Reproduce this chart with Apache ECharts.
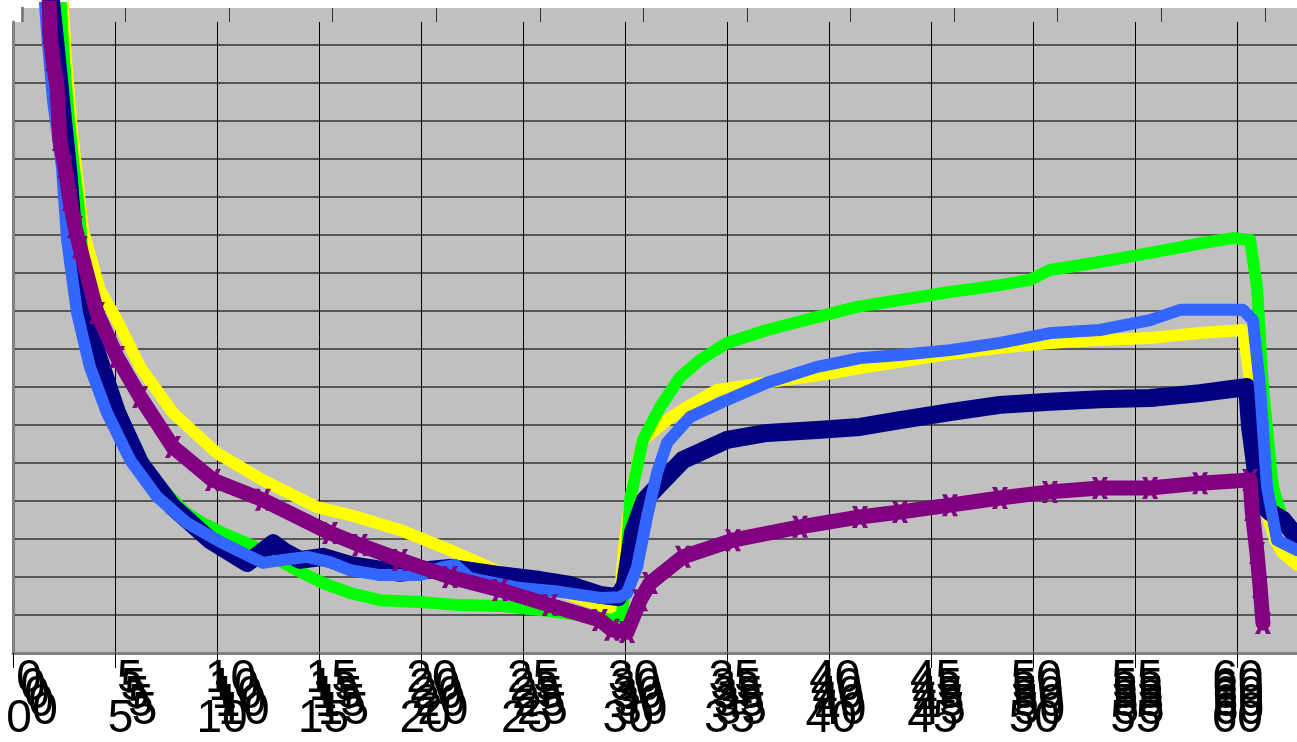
<!DOCTYPE html>
<html>
<head>
<meta charset="utf-8">
<title>chart</title>
<script src="https://cdn.jsdelivr.net/npm/echarts@6/dist/echarts.min.js"></script>
<style>
  html, body { margin: 0; padding: 0; background: #fff; }
  #chart { width: 1297px; height: 742px; }
</style>
</head>
<body>
<div id="chart"></div>
<script>
// x 轴刻度 (0..60, 每 5 一格), y 轴无刻度标签
var xTicks = [0, 5, 10, 15, 20, 25, 30, 35, 40, 45, 50, 55, 60];

// 各曲线数据 [x, y]
var greenData = [
  [2.30, 174.5], [2.50, 156.1], [2.70, 142.9], [2.94, 129.7], [3.19, 119.2], [3.43, 103.4],
  [3.68, 92.9], [4.02, 82.4], [4.46, 74.5], [4.90, 68.4], [5.49, 60.0], [6.23, 51.6],
  [6.96, 45.5], [7.70, 41.1], [8.43, 37.1], [9.31, 34.2], [10.39, 31.3], [11.47, 28.9],
  [12.60, 25.8], [13.92, 21.8], [15.20, 18.4], [16.52, 15.8], [17.99, 13.9], [19.95, 13.4],
  [21.91, 12.6], [23.87, 12.4], [25.83, 11.3], [27.79, 10.0], [29.36, 8.7], [29.85, 10.0],
  [30.0, 18.4], [30.25, 40.3], [30.88, 56.1], [31.72, 64.7], [32.70, 72.6], [33.68, 77.1],
  [35.0, 81.6], [36.96, 85.0], [39.41, 88.4], [41.37, 91.1], [43.48, 92.9], [45.93, 95.0],
  [48.38, 96.8], [49.85, 98.2], [50.83, 100.8], [53.28, 102.9], [55.74, 105.3], [57.06, 106.6],
  [58.33, 107.9], [59.80, 109.2], [60.64, 108.7], [60.98, 96.3], [61.27, 70.0], [61.76, 43.7],
  [62.25, 35.0], [62.94, 29.7]
];
var yellowData = [
  [2.40, 174.5], [2.60, 156.1], [2.89, 137.6], [3.19, 123.2], [3.43, 111.3], [4.26, 95.5],
  [5.10, 87.6], [6.23, 75.3], [7.84, 63.2], [10.0, 52.6], [12.25, 45.5], [14.90, 38.4],
  [16.52, 36.3], [18.97, 32.4], [21.42, 27.1], [23.87, 21.3], [26.32, 17.1], [28.77, 12.6],
  [29.66, 10.8], [30.0, 29.7], [30.39, 44.7], [30.88, 56.1], [32.06, 61.3], [33.04, 64.7],
  [34.51, 69.2], [37.75, 71.8], [40.20, 73.7], [41.52, 75.0], [43.48, 76.6], [45.93, 78.7],
  [48.38, 80.3], [50.83, 81.6], [53.28, 82.4], [55.74, 82.9], [58.19, 84.2], [60.29, 85.0],
  [60.64, 71.8], [61.03, 53.4], [61.42, 37.6], [61.86, 29.7], [62.25, 26.3], [62.94, 23.2]
];
var navyData = [
  [1.81, 174.5], [2.06, 161.3], [2.40, 142.9], [2.70, 127.1], [2.94, 111.3], [3.43, 91.1],
  [4.12, 78.9], [5.10, 63.2], [6.23, 50.0], [7.84, 38.4], [9.66, 29.7], [11.47, 23.7],
  [12.21, 26.6], [12.75, 28.9], [13.33, 26.6], [14.07, 24.5], [15.20, 25.3], [16.52, 23.2],
  [18.97, 21.1], [21.42, 22.4], [23.87, 20.5], [25.83, 19.2], [27.30, 17.9], [28.77, 15.3],
  [29.66, 14.7], [30.0, 17.9], [30.39, 31.6], [30.98, 40.3], [31.57, 43.7], [32.84, 50.8],
  [35.0, 56.1], [36.96, 57.9], [39.41, 58.7], [41.52, 59.5], [43.48, 61.3], [45.93, 63.4],
  [48.38, 65.3], [50.83, 66.1], [53.28, 66.8], [55.74, 67.1], [58.19, 68.4], [60.49, 70.0],
  [60.64, 59.5], [61.13, 39.5], [61.62, 37.1], [62.25, 35.0], [62.94, 30.5]
];
var blueData = [
  [1.52, 174.5], [1.67, 163.2], [1.96, 145.5], [2.40, 127.9], [2.65, 108.7], [3.14, 89.5],
  [3.77, 75.3], [4.61, 63.2], [5.74, 50.8], [7.06, 41.1], [8.53, 34.2], [10.29, 28.9],
  [12.25, 23.7], [13.24, 24.5], [14.41, 25.3], [15.54, 23.9], [16.52, 21.8], [17.99, 20.5],
  [19.95, 20.5], [20.93, 22.4], [21.67, 23.2], [22.40, 19.7], [24.85, 17.1], [26.81, 16.1],
  [28.77, 14.5], [29.75, 14.7], [30.10, 15.8], [30.59, 22.6], [31.08, 35.8], [31.57, 47.4],
  [32.06, 55.3], [33.19, 62.1], [35.0, 66.6], [36.96, 71.1], [39.41, 75.3], [41.52, 77.6],
  [43.48, 78.4], [45.93, 79.7], [48.38, 81.6], [50.83, 84.2], [53.28, 85.0], [55.74, 87.6],
  [57.21, 90.3], [60.29, 90.3], [60.78, 87.6], [61.13, 70.0], [61.47, 43.7], [61.96, 29.7],
  [62.94, 27.1]
];
var purpleData = [
  [1.76, 174.5], [1.81, 163.2], [1.96, 156.1], [2.16, 148.9], [2.30, 135.0], [2.55, 127.9],
  [2.79, 119.2], [3.04, 112.1], [3.28, 106.8], [4.12, 89.5], [5.10, 77.9], [6.23, 67.4],
  [7.84, 54.2], [9.80, 45.5], [12.25, 40.3], [15.54, 31.6], [17.01, 28.4], [18.97, 24.5],
  [21.42, 20.0], [23.87, 16.6], [26.32, 12.6], [28.77, 8.7], [29.36, 6.1], [30.10, 5.5],
  [30.74, 13.9], [31.23, 18.4], [32.84, 25.3], [35.29, 29.7], [38.58, 33.2], [41.52, 35.8],
  [43.48, 37.1], [45.93, 38.9], [48.38, 40.8], [50.83, 42.4], [53.28, 43.4], [55.74, 43.4],
  [58.19, 44.7], [60.64, 45.5], [60.74, 37.6], [60.98, 26.3], [61.13, 17.4], [61.27, 7.9]
];

var X_MAX = 62.94;
var FONT = "'Liberation Sans', Arial, sans-serif";

// 重叠的 x 轴标签行: 左边距, 每单位像素, 标签距离
var labelRows = [
  { left: 19, k: 20.5, margin: 52 },
  { left: 29, k: 20.42, margin: 3 },
  { left: 33, k: 20.46, margin: 11 },
  { left: 37, k: 20.5, margin: 19 },
  { left: 41, k: 20.54, margin: 27 },
  { left: 45, k: 20.58, margin: 35 }
];

var grids = [
  // 后面的绘图区 (只露出顶部一条)
  { left: 22, top: 8, right: 0, height: 645, show: true, backgroundColor: "#c0c0c0", borderWidth: 0, z: 0 },
  // 主绘图区
  { left: 13, top: 22, right: 0, height: 631, show: true, backgroundColor: "#c0c0c0", borderWidth: 0, z: 1 },
  // 曲线所在的区域
  { left: 13, top: 8, right: 0, height: 645, z: 3 }
];
var xAxes = [
  {
    gridIndex: 0, type: "value", min: 0, max: 61.55, interval: 5, z: 0,
    axisLine: { show: false }, axisTick: { show: false }, axisLabel: { show: false },
    splitLine: { show: true, showMaxLine: false, lineStyle: { color: "#333", width: 1 } }
  },
  {
    gridIndex: 1, type: "value", min: 0, max: X_MAX, interval: 5, z: 2,
    axisLine: { show: true, lineStyle: { color: "#808080", width: 3 } },
    axisTick: { show: true, length: 15, lineStyle: { color: "#000", width: 1 } },
    axisLabel: { show: false },
    splitLine: { show: true, showMaxLine: false, lineStyle: { color: "#000", width: 1 } }
  },
  { gridIndex: 2, type: "value", min: 0, max: X_MAX, show: false }
];
var yAxes = [
  {
    gridIndex: 0, type: "value", min: 0, max: 100, z: 0,
    axisLine: { show: true, lineStyle: { color: "#808080", width: 3 } },
    axisTick: { show: false }, axisLabel: { show: false }, splitLine: { show: false }
  },
  {
    gridIndex: 1, type: "value", min: 0, max: 166.05, interval: 10, z: 2,
    axisLine: { show: true, lineStyle: { color: "#808080", width: 3 } },
    axisTick: { show: false }, axisLabel: { show: false },
    splitLine: { show: true, showMaxLine: false, lineStyle: { color: "#333", width: 1.5 } }
  },
  { gridIndex: 2, type: "value", min: 0, max: 169.74, show: false }
];

// 每一行标签单独一个 grid
labelRows.forEach(function (row) {
  var gi = grids.length;
  grids.push({ left: row.left, top: 8, width: row.k * X_MAX, height: 645, z: 2 });
  xAxes.push({
    gridIndex: gi, type: "value", min: 0, max: X_MAX, interval: 5, z: 2,
    axisLine: { show: false }, axisTick: { show: false }, splitLine: { show: false },
    axisLabel: {
      show: true, margin: row.margin, showMaxLabel: false,
      color: "#000", fontSize: 46, lineHeight: 46, fontFamily: FONT,
      formatter: function (v) { return xTicks.indexOf(v) >= 0 ? String(v) : ""; }
    }
  });
  yAxes.push({ gridIndex: gi, type: "value", show: false });
});

var crossPath = "path://M0 0 L3 0 L5 3.5 L7 0 L10 0 L6.5 5 L10 10 L7 10 L5 6.5 L3 10 L0 10 L3.5 5 Z";

function lineSeries(name, data, color, width, z, extra) {
  var s = {
    name: name,
    type: "line",
    xAxisIndex: 2,
    yAxisIndex: 2,
    data: data,
    showSymbol: false,
    z: z,
    lineStyle: { color: color, width: width, join: "round", cap: "round" },
    itemStyle: { color: color },
    animation: false
  };
  for (var key in extra) s[key] = extra[key];
  return s;
}

var option = {
  animation: false,
  grid: grids,
  xAxis: xAxes,
  yAxis: yAxes,
  series: [
    lineSeries("yellow", yellowData, "#ffff00", 12, 5),
    lineSeries("green", greenData, "#00ff00", 12, 6),
    lineSeries("navy", navyData, "#000080", 18, 7),
    lineSeries("blue", blueData, "#3366ff", 12, 8),
    lineSeries("purple", purpleData, "#800080", 15, 9, {
      showSymbol: true, symbol: crossPath, symbolSize: [16, 22]
    })
  ]
};

var myChart = echarts.init(document.getElementById("chart"));
myChart.setOption(option);
</script>
</body>
</html>
